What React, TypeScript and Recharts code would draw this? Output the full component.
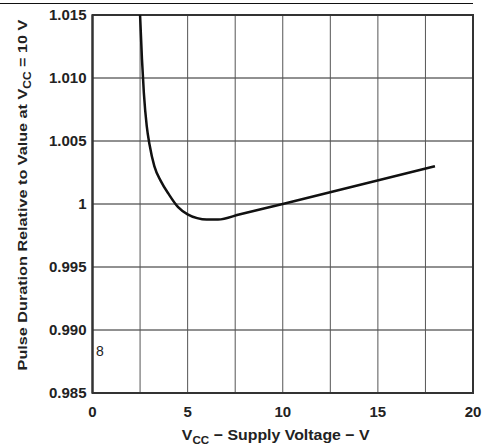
import React from "react";
import {
  LineChart,
  Line,
  XAxis,
  YAxis,
  CartesianGrid,
  ReferenceArea,
  ReferenceDot,
  Label,
} from "recharts";

// supply voltage (V)
const vcc = [2.5, 2.6, 2.7, 2.85, 3.0, 3.25, 3.6, 4.0, 4.5, 5.0, 5.5, 6.0, 6.6, 7.76, 10, 18];
// pulse duration relative to value at VCC = 10 V
const ratio = [
  1.015, 1.0115, 1.0088, 1.0062, 1.0047, 1.003, 1.0018, 1.0008, 0.99975, 0.99918, 0.99888, 0.99876,
  0.99876, 0.99919, 1.0, 1.003,
];

const xTicks = [0, 2.5, 5, 7.5, 10, 12.5, 15, 17.5, 20];
const yTicks = [0.985, 0.99, 0.995, 1.0, 1.005, 1.01, 1.015];
const yTickLabels = ["0.985", "0.990", "0.995", "1", "1.005", "1.010", "1.015"];

const data = vcc.map((v, i) => ({ vcc: v, ratio: ratio[i] }));

const FONT = "'Liberation Sans', Arial, sans-serif";

const XTitle = (props: any) => {
  const { viewBox } = props;
  const cx = viewBox.x + viewBox.width / 2 - 7;
  return (
    <text
      transform={`translate(${cx} 440) scale(1.06 1)`}
      textAnchor="middle"
      fontFamily={FONT}
      fontWeight="bold"
      fontSize={15}
      fill="#222"
    >
      <tspan>V</tspan>
      <tspan fontSize={11} dy={4}>CC</tspan>
      <tspan dy={-4}> − Supply Voltage − V</tspan>
    </text>
  );
};

const YTitle = () => {
  const cx = 27;
  const cy = 195;
  return (
    <text
      transform={`translate(${cx} ${cy}) rotate(-90) scale(1.2 1)`}
      textAnchor="middle"
      fontFamily={FONT}
      fontWeight="bold"
      fontSize={13.5}
      fill="#222"
    >
      <tspan>Pulse Duration Relative to Value at V</tspan>
      <tspan fontSize={10} dy={4}>CC</tspan>
      <tspan dy={-4}> = 10 V</tspan>
    </text>
  );
};

export default function App() {
  return (
    <div style={{ position: "fixed", left: 0, top: 0, width: 484, height: 447, background: "#fff" }}>
      <div style={{ position: "absolute", left: 0, top: 3, width: 473, height: 1, background: "#111" }} />
      <LineChart width={484} height={447} data={data} margin={{ top: 15, right: 11, bottom: 0, left: 0 }}>
        <CartesianGrid stroke="#222" strokeWidth={1} vertical={false} />
        <CartesianGrid stroke="#555" strokeWidth={1} horizontal={false} />
        <XAxis
          dataKey="vcc"
          type="number"
          domain={[0, 20]}
          ticks={xTicks}
          interval={0}
          tickFormatter={(v: number) => (v % 5 === 0 ? String(v) : "")}
          tickSize={0}
          tickMargin={13}
          height={54}
          axisLine={{ stroke: "#333", strokeWidth: 2 }}
          tick={{ fill: "#222", fontFamily: FONT, fontWeight: "bold", fontSize: 15 }}
        >
          <Label content={XTitle} />
        </XAxis>
        <YAxis
          type="number"
          domain={[0.985, 1.015]}
          ticks={yTicks}
          interval={0}
          allowDataOverflow
          tickFormatter={(v: number) => yTickLabels[yTicks.indexOf(v)] ?? String(v)}
          tickSize={0}
          tickMargin={6}
          width={92.5}
          axisLine={{ stroke: "#333", strokeWidth: 2 }}
          tick={{ fill: "#222", fontFamily: FONT, fontWeight: "bold", fontSize: 15 }}
        >
          <Label content={YTitle} />
        </YAxis>
        <ReferenceArea x1={0} x2={20} y1={0.985} y2={1.015} fill="none" stroke="#333" strokeWidth={2} />
        <ReferenceDot
          x={0.39}
          y={0.9883}
          r={0}
          stroke="none"
          label={{ value: "8", position: "center", fontFamily: FONT, fontSize: 14, fill: "#222" }}
        />
        <Line
          dataKey="ratio"
          type="monotone"
          stroke="#111"
          strokeWidth={2.5}
          dot={false}
          isAnimationActive={false}
        />
      </LineChart>
    </div>
  );
}
